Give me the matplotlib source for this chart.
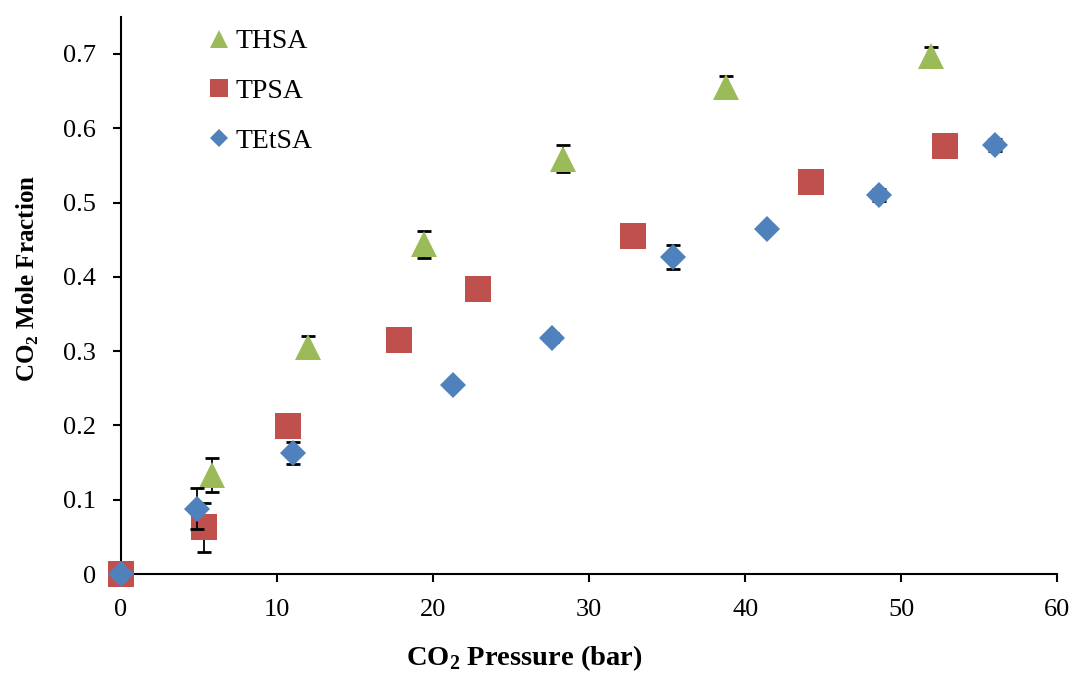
import numpy as np
import matplotlib
matplotlib.use('Agg')
import matplotlib.pyplot as plt

plt.rcParams['font.family'] = 'Liberation Serif'
plt.rcParams['mathtext.fontset'] = 'custom'
plt.rcParams['mathtext.rm'] = 'Liberation Serif'
plt.rcParams['mathtext.bf'] = 'Liberation Serif:bold'

# data
thsa_x = [5.8, 12.0, 19.4, 28.3, 38.8, 51.9]
thsa_y = [0.133, 0.306, 0.444, 0.559, 0.656, 0.697]
thsa_err = [0.023, 0.015, 0.018, 0.018, 0.014, 0.013]

tpsa_x = [0.0, 5.3, 10.7, 17.8, 22.9, 32.8, 44.2, 52.8]
tpsa_y = [0.0, 0.063, 0.199, 0.315, 0.384, 0.455, 0.528, 0.576]
tpsa_err = [0.0, 0.033, 0.0, 0.0, 0.0, 0.0, 0.0, 0.0]

tetsa_x = [0.0, 4.9, 11.0, 21.3, 27.6, 35.4, 41.4, 48.6, 56.0]
tetsa_y = [0.0, 0.088, 0.163, 0.254, 0.318, 0.427, 0.464, 0.510, 0.577]
tetsa_err = [0.0, 0.028, 0.015, 0.0, 0.006, 0.016, 0.0, 0.008, 0.008]

green, red, blue = '#9BBB59', '#C0504D', '#4F81BD'

fig = plt.figure(figsize=(10.76, 6.73), dpi=100)
ax = fig.add_axes([0.1125, 0.147, 0.87, 0.828])

series = [(thsa_x, thsa_y, thsa_err, '^', green, 18.5, 'THSA'),
          (tpsa_x, tpsa_y, tpsa_err, 's', red, 18.5, 'TPSA'),
          (tetsa_x, tetsa_y, tetsa_err, 'D', blue, 13.2, 'TEtSA')]

z = 3
for xs, ys, es, mk, col, ms, lab in series:
    ax.errorbar(xs, ys, yerr=es, fmt='none', ecolor='black', elinewidth=1.3,
                capsize=5, capthick=2, zorder=z)
    ax.plot(xs, ys, linestyle='none', marker=mk, color=col, markersize=ms,
            markeredgewidth=0, label=lab, zorder=z + 1, clip_on=False)
    z += 2

ax.set_xlim(0, 60)
ax.set_ylim(0, 0.75)
ax.set_xticks(np.arange(0, 61, 10))
ax.set_yticks(np.arange(0, 0.71, 0.1))
ax.set_yticklabels(['0', '0.1', '0.2', '0.3', '0.4', '0.5', '0.6', '0.7'])
ax.spines['top'].set_visible(False)
ax.spines['right'].set_visible(False)
ax.spines['left'].set_linewidth(1.5)
ax.spines['bottom'].set_linewidth(1.5)
ax.spines['left'].set_zorder(2)
ax.spines['bottom'].set_zorder(2)
ax.tick_params(direction='out', length=6, width=1.5, labelsize=19, pad=12)

ax.set_xlabel(r'CO$_\mathbf{2}$ Pressure (bar)', fontsize=20.5, fontweight='bold')
ax.set_ylabel(r'CO$_\mathbf{2}$ Mole Fraction', fontsize=18, fontweight='bold')
ax.xaxis.set_label_coords(0.431, -0.125)
ax.yaxis.set_label_coords(-0.0855, 0.531)

leg = ax.legend(loc='upper left', bbox_to_anchor=(0.069, 1.023), frameon=False,
                fontsize=20, labelspacing=0.87, handlelength=0.6,
                handletextpad=0.3, markerscale=0.7)

plt.savefig('out.png', dpi=100)
